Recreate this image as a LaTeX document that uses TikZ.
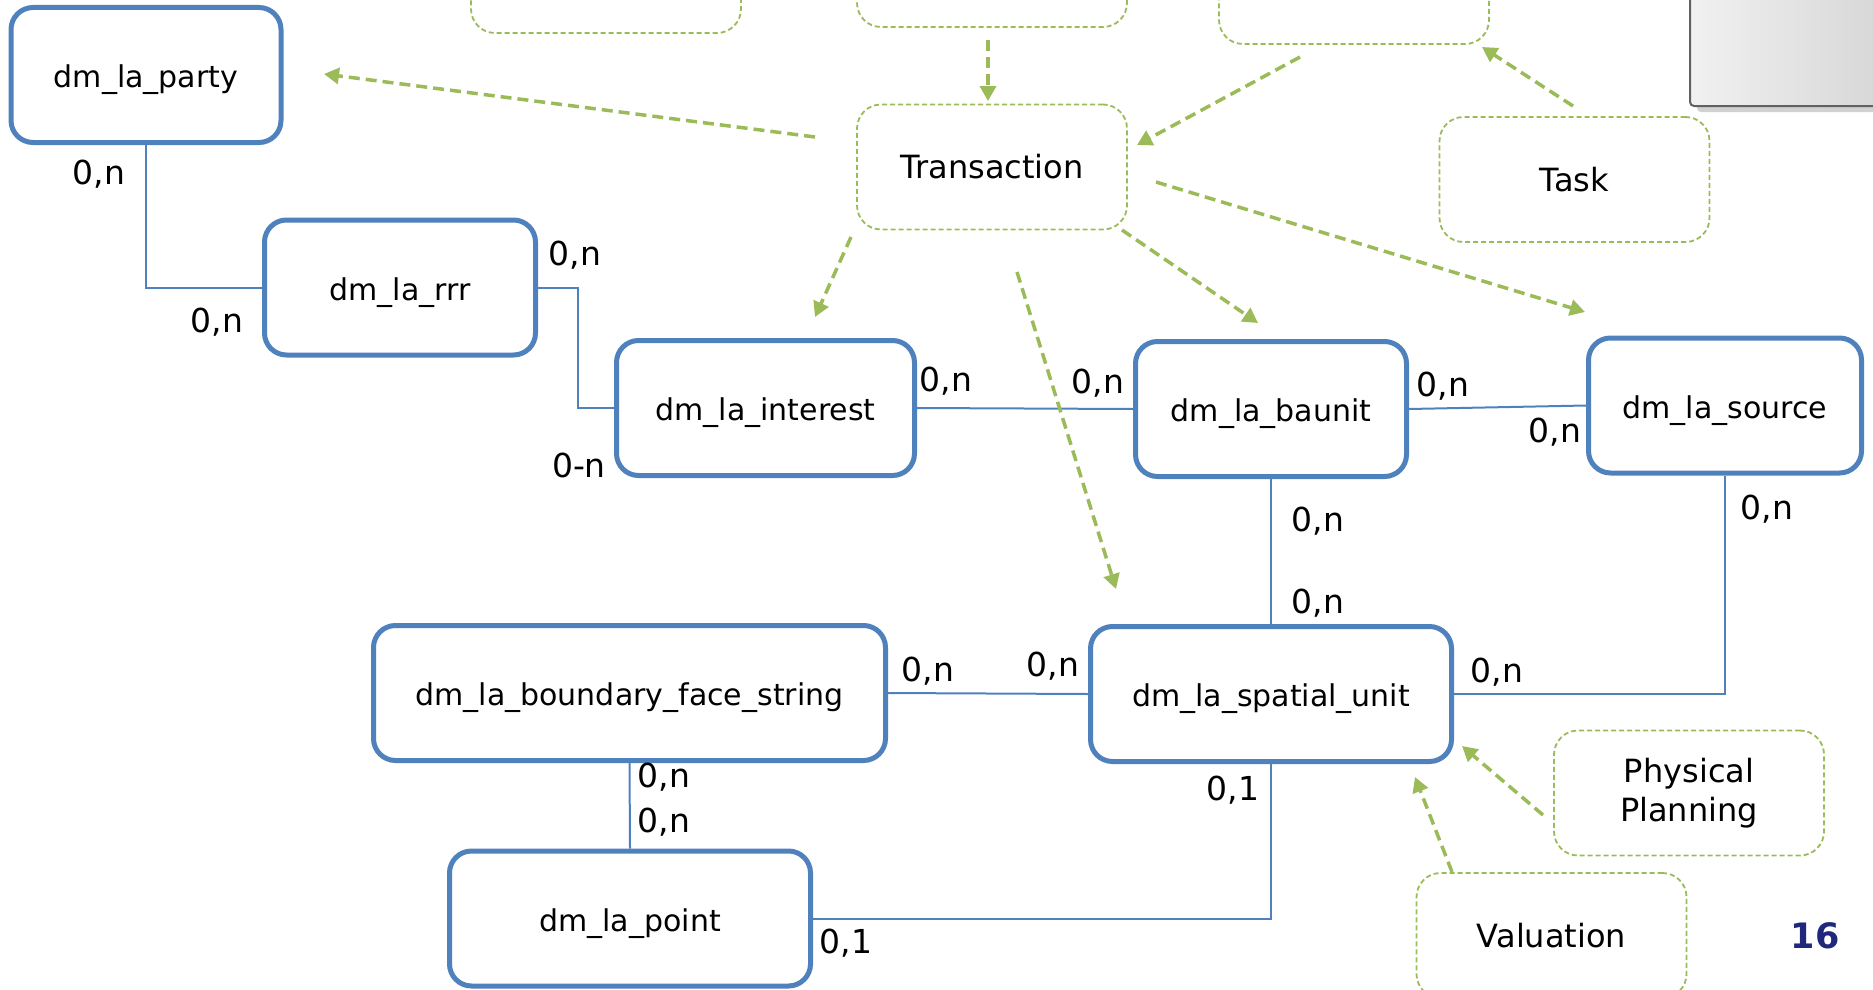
\documentclass[tikz,border=0pt]{standalone}
\usepackage{fontspec}
\setmainfont{DejaVu Sans}
\usetikzlibrary{arrows.meta}
\definecolor{eblue}{RGB}{79,129,189}
\definecolor{egreen}{RGB}{155,187,89}
\definecolor{pagenavy}{RGB}{31,40,122}
\definecolor{panelL}{RGB}{241,241,241}
\definecolor{panelR}{RGB}{214,214,214}
\begin{document}
\begin{tikzpicture}[x=1pt,y=-1pt,
  entity/.style={draw=eblue, fill=white, line width=5pt, rounded corners=22pt, inner sep=0pt,
    font=\fontsize{30}{36}\selectfont, minimum height=135pt,
    text height=32pt, text depth=7pt},
  proc/.style={draw=egreen, line width=1.8pt, dash pattern=on 5pt off 3pt, rounded corners=24pt,
    inner sep=0pt, minimum width=270pt, minimum height=125pt,
    font=\fontsize{32}{39}\selectfont, align=center},
  link/.style={draw=eblue, line width=2pt},
  card/.style={font=\fontsize{33}{38}\selectfont, inner sep=0pt},
  flow/.style={draw=egreen, line width=3.5pt, dash pattern=on 11pt off 6pt,
    -{Triangle[length=15pt,width=16pt]}},
]
\path[use as bounding box] (0,0) rectangle (1873,990);
\clip (0,0) rectangle (1873,990);

% grey panel (top right)
\fill[black!18, rounded corners=4pt] (1697,-20) rectangle (1890,112);
\shadedraw[left color=panelL, right color=panelR, draw=black!62, line width=2pt, rounded corners=4pt]
  (1690,-20) rectangle (1890,106);

% dashed process boxes
\node[proc] (topL) at (606,-29.5) {};
\node[proc] (topM) at (992,-35.5) {};
\node[proc] (topR) at (1354,-18.5) {};
\node[proc] (trans) at (992,167) {Transaction};
\node[proc] (task) at (1574.5,179.5) {Task};
\node[proc] (phys) at (1689,793) {Physical\\Planning};
\node[proc] (val) at (1551.5,935.5) {Valuation};

% entities
\node[entity, minimum width=270pt] (party) at (146,75) {dm\_la\_party};
\node[entity, minimum width=271pt] (rrr) at (400,287.5) {dm\_la\_rrr};
\node[entity, minimum width=298pt] (interest) at (765.5,408) {dm\_la\_interest};
\node[entity, minimum width=271pt] (baunit) at (1271,409) {dm\_la\_baunit};
\node[entity, minimum width=273pt] (source) at (1725,405.5) {dm\_la\_source};
\node[entity, minimum width=512pt] (boundary) at (629.5,693) {dm\_la\_boundary\_face\_string};
\node[entity, minimum width=361pt] (spatial) at (1271,694) {dm\_la\_spatial\_unit};
\node[entity, minimum width=361pt] (point) at (630,918.5) {dm\_la\_point};

% connectors between entities
\draw[link] (party.south) |- (rrr.west);
\draw[link] (rrr.east) -- ++(40,0) |- (interest.west);
\draw[link] (interest.east) -- (baunit.west);
\draw[link] (baunit.east) -- (source.west);
\draw[link] (baunit.south) -- (spatial.north);
\draw[link] (source.south) |- (spatial.east);
\draw[link] (boundary.east) -- (spatial.west);
\draw[link] (boundary.south) -- (point.north);
\draw[link] (point.east) -| (spatial.south);

% cardinalities
\node[card] (c1) at (99,174) {0,n};
\node[card] (c2) at (217,322) {0,n};
\node[card] (c3) at (575,255) {0,n};
\node[card] (c4) at (579,465) {0-n};
\node[card] (c5) at (946,381) {0,n};
\node[card] (c6) at (1098,383) {0,n};
\node[card] (c7) at (1443,386) {0,n};
\node[card] (c8) at (1555,432) {0,n};
\node[card] (c9) at (1767,509) {0,n};
\node[card] (c10) at (1497,672) {0,n};
\node[card] (c11) at (1318,521) {0,n};
\node[card] (c12) at (1318,603) {0,n};
\node[card] (c13) at (928,671) {0,n};
\node[card] (c14) at (1053,666) {0,n};
\node[card] (c15) at (664,777) {0,n};
\node[card] (c16) at (664,822) {0,n};
\node[card] (c17) at (1233,790) {0,1};
\node[card] (c18) at (846,943) {0,1};

% flow arrow end points
\coordinate (a1s) at (815,137);   \coordinate (a1e) at (324,74);
\coordinate (a2s) at (988,40);    \coordinate (a2e) at (988,101);
\coordinate (a3s) at (1300,57);   \coordinate (a3e) at (1137,145);
\coordinate (a4s) at (1573,106);  \coordinate (a4e) at (1482,47);
\coordinate (a5s) at (851,237);   \coordinate (a5e) at (815,317);
\coordinate (a6s) at (1122,230);  \coordinate (a6e) at (1258,323);
\coordinate (a7s) at (1156,182);  \coordinate (a7e) at (1585,312);
\coordinate (a8s) at (1017,272);  \coordinate (a8e) at (1116,589);
\coordinate (a9s) at (1543,815);  \coordinate (a9e) at (1462,746);
\coordinate (a10s) at (1452,872); \coordinate (a10e) at (1415,777);

\draw[flow] (a1s) -- (a1e);
\draw[flow] (a2s) -- (a2e);
\draw[flow] (a3s) -- (a3e);
\draw[flow] (a4s) -- (a4e);
\draw[flow] (a5s) -- (a5e);
\draw[flow] (a6s) -- (a6e);
\draw[flow] (a7s) -- (a7e);
\draw[flow] (a8s) -- (a8e);
\draw[flow] (a9s) -- (a9e);
\draw[flow] (a10s) -- (a10e);

% page number
\node[font=\fontsize{35}{40}\selectfont\bfseries, text=pagenavy, inner sep=0pt] (pageno) at (1815,936) {16};
\end{tikzpicture}
\end{document}
